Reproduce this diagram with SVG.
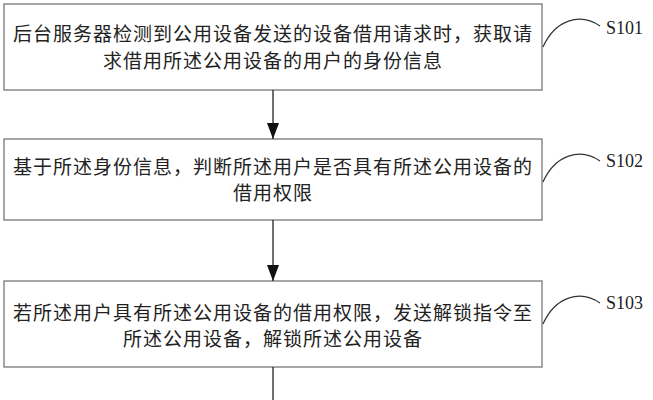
<svg xmlns="http://www.w3.org/2000/svg" width="653" height="400" viewBox="0 0 653 400">
<style>
.box{fill:#fff;stroke:#777;stroke-width:1.3}
.t{font-family:"Noto Sans CJK SC",sans-serif;font-size:19px;letter-spacing:1px;fill:#222;text-anchor:middle}
.lbl{font-family:"Liberation Serif",serif;font-size:18px;fill:#222}
.c{fill:none;stroke:#333;stroke-width:1.2}
.ln{stroke:#222;stroke-width:1.3}
</style>
<defs><marker id="ah" markerWidth="10" markerHeight="14" refX="10" refY="7" orient="auto" markerUnits="userSpaceOnUse"><path d="M0,0 L14,7 L0,14Z" fill="#111" transform="scale(0.72,1)"/></marker>
<marker id="a" viewBox="0 0 16 12" refX="16" refY="6" markerWidth="16" markerHeight="12" orient="auto" markerUnits="userSpaceOnUse"><path d="M0,0 L16,6 L0,12Z" fill="#111"/></marker></defs>
<rect width="653" height="400" fill="#fff"/>
<g id="n1"><rect class="box" x="4" y="4" width="538" height="86"/>
<text class="t" x="273" y="41">后台服务器检测到公用设备发送的设备借用请求时，获取请</text>
<text class="t" x="273" y="68">求借用所述公用设备的用户的身份信息</text>
<path class="c" d="M543,47 C555,20 580,12 600,26"/><text class="lbl" x="606" y="34">S101</text></g>
<g id="n2"><rect class="box" x="4" y="139" width="538" height="81"/>
<text class="t" x="273" y="174">基于所述身份信息，判断所述用户是否具有所述公用设备的</text>
<text class="t" x="273" y="200">借用权限</text>
<path class="c" d="M543,182 C555,155 580,147 600,161"/><text class="lbl" x="606" y="167">S102</text></g>
<g id="n3"><rect class="box" x="4" y="281" width="538" height="86"/>
<text class="t" x="273" y="320">若所述用户具有所述公用设备的借用权限，发送解锁指令至</text>
<text class="t" x="273" y="346">所述公用设备，解锁所述公用设备</text>
<path class="c" d="M543,324 C555,297 580,289 600,303"/><text class="lbl" x="606" y="309">S103</text></g>
<g id="connectors">
<line class="ln" x1="273" y1="90" x2="273" y2="139" marker-end="url(#a)"/>
<line class="ln" x1="273" y1="220" x2="273" y2="281" marker-end="url(#a)"/>
<line class="ln" x1="273" y1="367" x2="273" y2="400"/>
</g>
</svg>
